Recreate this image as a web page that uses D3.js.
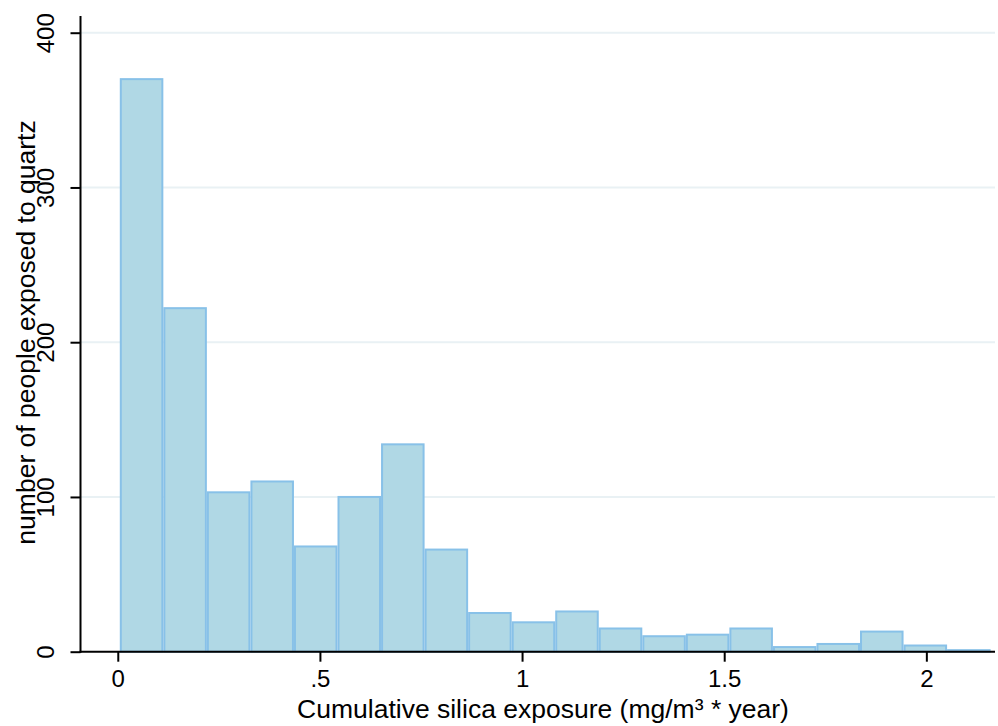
<!DOCTYPE html>
<html>
<head>
<meta charset="utf-8">
<script src="https://cdn.jsdelivr.net/npm/d3@7"></script>
<style>
  body { margin: 0; background: #fff; }
  text { font-family: "Liberation Sans", Arial, sans-serif; fill: #000; }
</style>
</head>
<body>
<div id="chart"></div>
<script>
// histogram data: 20 bins
var binStart = 0.005;
var binWidth = 0.1077;
var counts = [370, 222, 103, 110, 68, 100, 134, 66, 25, 19, 26, 15, 10, 11, 15, 3, 5, 13, 4, 1];
var xTicks = [0, 0.5, 1, 1.5, 2];
var xTickLabels = ["0", ".5", "1", "1.5", "2"];
var yTicks = [0, 100, 200, 300, 400];

var width = 998, height = 726;
var plot = {left: 80.5, right: 995, top: 16, bottom: 651.7};

var svg = d3.select("#chart").append("svg")
  .attr("width", width)
  .attr("height", height);

var x = d3.scaleLinear().domain([-0.0922, 2.1698]).range([plot.left, plot.right]);
var y = d3.scaleLinear().domain([0, 410.8]).range([plot.bottom, plot.top]);

var bins = counts.map(function(c, i) {
  return {x0: binStart + i * binWidth, x1: binStart + (i + 1) * binWidth, n: c};
});

// grid lines
svg.append("g")
  .selectAll("line")
  .data(yTicks.filter(function(d) { return d > 0; }))
  .enter().append("line")
  .attr("x1", plot.left)
  .attr("x2", plot.right)
  .attr("y1", function(d) { return y(d); })
  .attr("y2", function(d) { return y(d); })
  .attr("stroke", "#e9f1f4")
  .attr("stroke-width", 2);

// bars
svg.append("g")
  .selectAll("rect")
  .data(bins)
  .enter().append("rect")
  .attr("x", function(d) { return x(d.x0) + 1; })
  .attr("width", function(d) { return x(d.x1) - x(d.x0) - 2; })
  .attr("y", function(d) { return y(d.n); })
  .attr("height", function(d) { return y(0) - y(d.n); })
  .attr("fill", "#b0d8e5")
  .attr("stroke", "#88c1e8")
  .attr("stroke-width", 2);

// y axis
var yAxis = svg.append("g")
  .attr("transform", "translate(" + plot.left + ",0)")
  .call(d3.axisLeft(y).tickValues(yTicks).tickSize(10).tickFormat(d3.format("d")));
yAxis.select(".domain")
  .attr("d", "M0," + plot.top + "V" + (plot.bottom + 1))
  .attr("stroke-width", 2);
yAxis.selectAll(".tick line").attr("stroke-width", 2);
yAxis.selectAll(".tick text")
  .attr("x", null).attr("dy", null)
  .attr("transform", "translate(-27,0) rotate(-90)")
  .attr("text-anchor", "middle")
  .style("font-size", "24px")
  .style("font-family", "Liberation Sans, Arial, sans-serif");

// x axis
var xAxis = svg.append("g")
  .attr("transform", "translate(0," + plot.bottom + ")")
  .call(d3.axisBottom(x).tickValues(xTicks).tickSize(10)
    .tickFormat(function(d, i) { return xTickLabels[i]; }));
xAxis.select(".domain")
  .attr("d", "M" + (plot.left - 1) + ",0H" + plot.right)
  .attr("stroke-width", 2);
xAxis.selectAll(".tick line").attr("stroke-width", 2);
xAxis.selectAll(".tick text")
  .attr("y", 35).attr("dy", null)
  .style("font-size", "24px")
  .style("font-family", "Liberation Sans, Arial, sans-serif");

// axis titles
svg.append("text")
  .attr("x", 543)
  .attr("y", 718)
  .attr("text-anchor", "middle")
  .style("font-size", "26.5px")
  .text("Cumulative silica exposure (mg/m³ * year)");

svg.append("text")
  .attr("transform", "translate(35,332.5) rotate(-90)")
  .attr("text-anchor", "middle")
  .style("font-size", "26.5px")
  .text("number of people exposed to quartz");
</script>
</body>
</html>
